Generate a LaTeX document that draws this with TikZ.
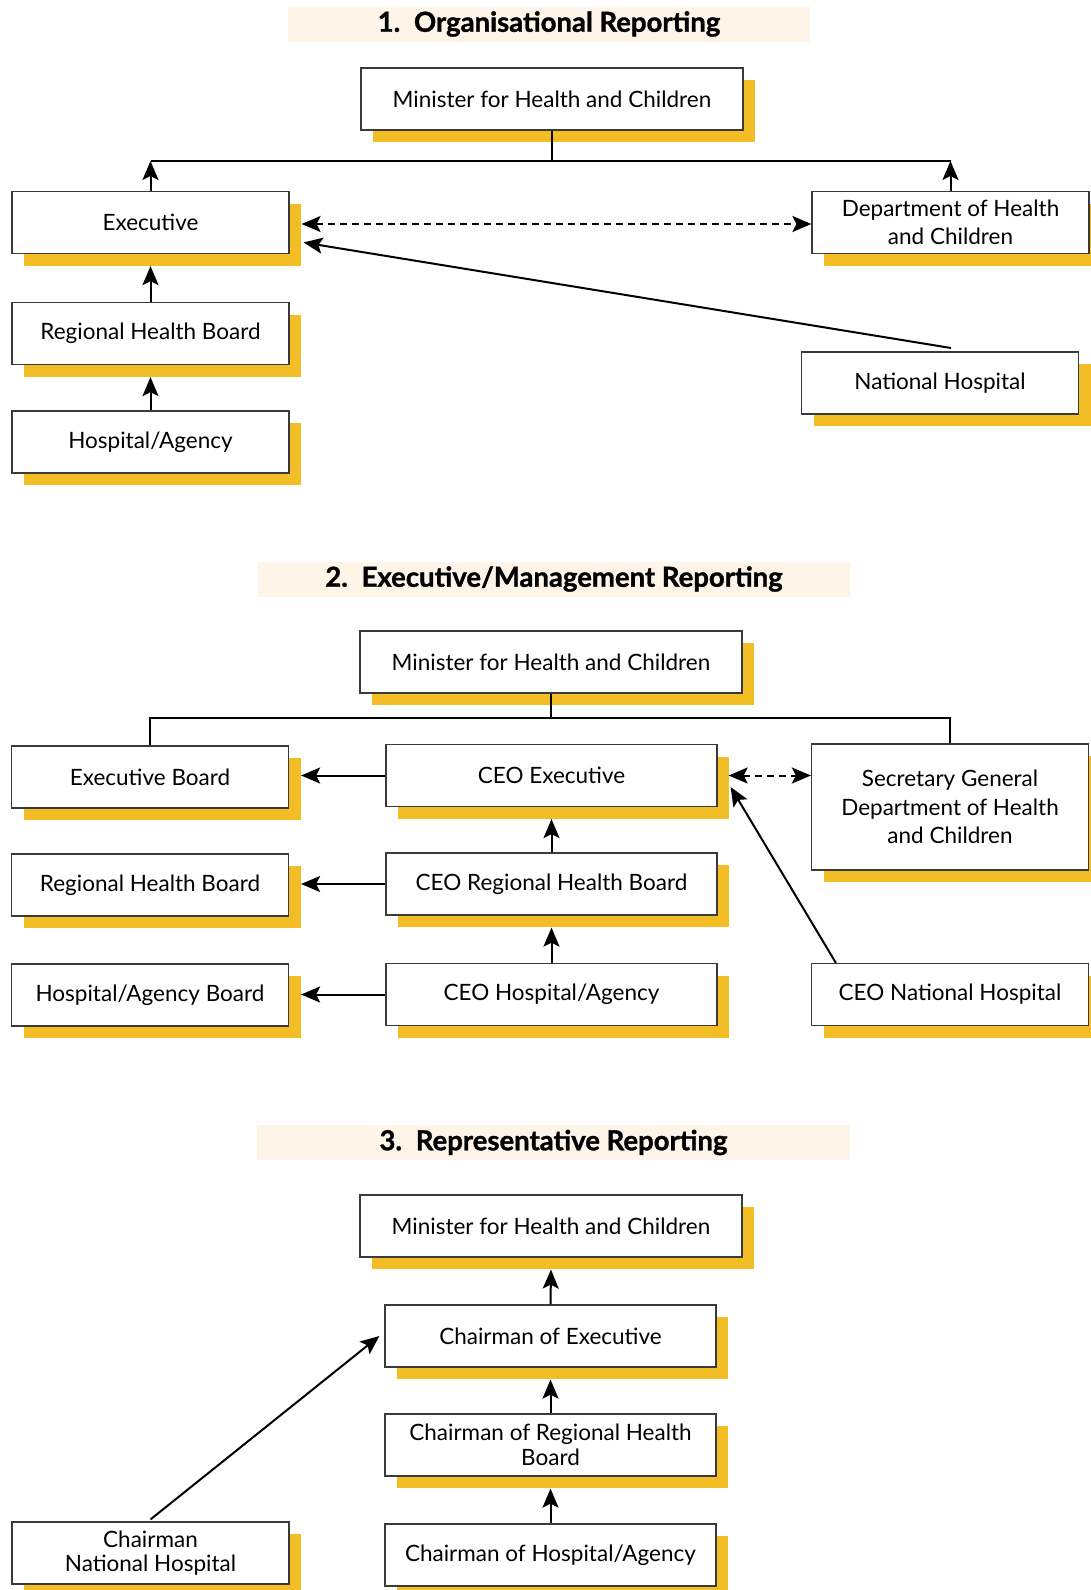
\documentclass[tikz,border=0pt]{standalone}
\usepackage{fontspec}
\setmainfont{Lato}
\newfontfamily\ttlfont{Lato}[BoldFeatures={FakeBold=1.2}]
\usetikzlibrary{arrows.meta,shadows}
\definecolor{shy}{HTML}{F3BD26}
\definecolor{bandc}{HTML}{FEF4E8}
\definecolor{bord}{HTML}{3A3A3A}
\tikzset{
  box/.style={draw=bord, line width=1.2pt, fill=white, inner sep=2pt, align=center,
    font=\fontsize{22.5}{24.5}\selectfont,
    drop shadow={shadow xshift=12pt, shadow yshift=-12pt, fill=shy, opacity=1}},
  wbox/.style={box, minimum width=277pt, minimum height=62pt},
  cbox/.style={box, minimum width=331pt, minimum height=62pt},
  mbox/.style={box, minimum width=382pt, minimum height=62pt},
  bandbox/.style={fill=bandc, inner sep=0pt, font=\ttlfont\fontsize{27.5}{30}\selectfont\bfseries},
  conn/.style={line width=2pt, black},
  tipshape/.style={},
  arr/.style={conn, -{Stealth[length=19pt,width=16pt,inset=4pt]}},
  dline/.style={conn, dash pattern=on 7pt off 5pt, {Stealth[length=19pt,width=16pt,inset=4pt]}-{Stealth[length=19pt,width=16pt,inset=4pt]}},
}
\begin{document}
\begin{tikzpicture}[x=1pt,y=-1pt]
\useasboundingbox (0,0) rectangle (1091,1590);
% ---------- Section 1 ----------
\node[bandbox, minimum width=522pt, minimum height=35pt] (t1) at (549,24) {1.\enspace Organisational Reporting};
\node[mbox] (m1) at (552,99) {Minister for Health and Children};
\node[wbox] (exec1) at (150.5,222.5) {Executive};
\node[wbox] (rhb1) at (150.5,333.5) {Regional Health Board};
\node[wbox] (hosp1) at (150.5,442) {Hospital/Agency};
\node[wbox, font=\fontsize{22.5}{28.5}\selectfont] (dept1) at (950.5,222.5) {Department of Health\\and Children};
\node[wbox] (nat1) at (940,383) {National Hospital};
\coordinate (h1l) at (150.5,161);
\coordinate (h1r) at (950.5,161);
\draw[conn] (m1.south) -- (m1.south |- h1l);
\draw[conn] (h1l) -- (h1r);
\draw[arr] (exec1.north) -- (h1l);
\draw[arr] (dept1.north) -- (h1r);
\draw[arr] (rhb1.north) -- ([yshift=-12pt]exec1.south);
\draw[arr] (hosp1.north) -- ([yshift=-12pt]rhb1.south);
\draw[dline] ([xshift=12pt,yshift=-1.5pt]exec1.east) -- ([yshift=-1.5pt]exec1.east -| dept1.west);
\coordinate (n1) at (951,348);
\draw[arr] (n1) -- ([xshift=14pt,yshift=-20pt]exec1.east);
% ---------- Section 2 ----------
\node[bandbox, minimum width=592pt, minimum height=35pt] (t2) at (554,579) {2.\enspace Executive/Management Reporting};
\node[mbox] (m2) at (551,662) {Minister for Health and Children};
\node[wbox] (eb2) at (150,777) {Executive Board};
\node[cbox] (ceoexec) at (551.5,775.5) {CEO Executive};
\node[wbox, minimum height=126pt, font=\fontsize{22.5}{28.5}\selectfont] (sg2) at (950,807) {Secretary General\\Department of Health\\and Children};
\node[wbox] (rhb2) at (150,885) {Regional Health Board};
\node[cbox] (ceorhb) at (551.5,884) {CEO Regional Health Board};
\node[wbox] (hab2) at (150,995) {Hospital/Agency Board};
\node[cbox] (ceohosp) at (551.5,994.5) {CEO Hospital/Agency};
\node[wbox] (ceonat) at (950,994.5) {CEO National Hospital};
\coordinate (h2l) at (150,718);
\coordinate (h2r) at (950,718);
\draw[conn] (m2.south) -- (m2.south |- h2l);
\draw[conn] (eb2.north) -- (h2l) -- (h2r) -- (sg2.north);
\draw[arr] (ceoexec.west) -- ([xshift=12pt]ceoexec.west -| eb2.east);
\draw[arr] (ceorhb.west) -- ([xshift=12pt]ceorhb.west -| rhb2.east);
\draw[arr] (ceohosp.west) -- ([xshift=12pt]ceohosp.west -| hab2.east);
\draw[arr] (ceorhb.north) -- ([yshift=-12pt]ceoexec.south);
\draw[arr] (ceohosp.north) -- ([yshift=-12pt]ceorhb.south);
\draw[dline] ([xshift=11pt]ceoexec.east) -- (ceoexec.east -| sg2.west);
\draw[arr] ([xshift=25pt]ceonat.north west) -- ([xshift=13pt,yshift=-11.5pt]ceoexec.east);
% ---------- Section 3 ----------
\node[bandbox, minimum width=593pt, minimum height=35pt] (t3) at (553.5,1142.5) {3.\enspace Representative Reporting};
\node[mbox] (m3) at (551,1226) {Minister for Health and Children};
\node[cbox] (chexec) at (550.5,1336) {Chairman of Executive};
\node[cbox] (chrhb) at (550.5,1445) {Chairman of Regional Health\\Board};
\node[cbox] (chhosp) at (550.5,1555) {Chairman of Hospital/Agency};
\node[wbox] (chnat) at (150.5,1553) {Chairman\\National Hospital};
\draw[arr] (chexec.north) -- ([yshift=-12pt]m3.south);
\draw[arr] (chrhb.north) -- ([yshift=-12pt]chexec.south);
\draw[arr] (chhosp.north) -- ([yshift=-12pt]chrhb.south);
\draw[arr] ([yshift=2pt]chnat.north) -- ([xshift=-5pt]chexec.west);
\end{tikzpicture}
\end{document}
